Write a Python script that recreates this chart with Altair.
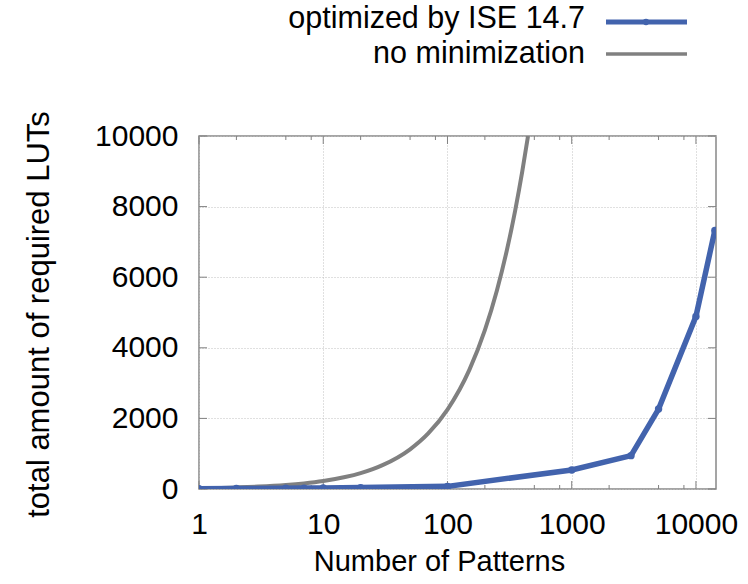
import altair as alt
import pandas as pd

# ---- data ----
series_names = ["optimized by ISE 14.7", "no minimization"]

opt_patterns = [1, 2, 5, 7, 10, 20, 100, 1000, 3000, 5000, 10000, 14200]
opt_luts = [10, 15, 20, 25, 30, 40, 75, 540, 945, 2265, 4890, 7325]

nomin_patterns = [1, 2, 3, 5, 7, 10, 15, 20, 30, 50, 70, 100, 150, 200, 250, 300, 350, 400, 445]
nomin_luts = [22, 45, 68, 113, 158, 225, 338, 450, 675, 1125, 1575, 2250, 3375, 4500, 5625, 6750, 7875, 9000, 10000]

x_major = [1, 10, 100, 1000, 10000]
x_minor = [2, 5, 8, 20, 50, 80, 200, 500, 800, 2000, 5000, 8000]
y_major = [0, 2000, 4000, 6000, 8000, 10000]

X_DOMAIN = [1, 14500]
Y_DOMAIN = [0, 10000]

W, H = 517, 353
FONT = "Liberation Sans"
FS = 29
LABFS = 30
BLUE = "#4263ad"
GRAY = "#808080"

opt_df = pd.DataFrame({"patterns": opt_patterns, "luts": opt_luts, "series": series_names[0]})
nomin_df = pd.DataFrame({"patterns": nomin_patterns, "luts": nomin_luts, "series": series_names[1]})

xscale = alt.Scale(type="log", domain=X_DOMAIN, nice=False)
yscale = alt.Scale(domain=Y_DOMAIN, nice=False)

x_enc = alt.X("patterns:Q", scale=xscale,
              axis=alt.Axis(values=x_major, format="d", ticks=False, domain=False,
                            grid=True, gridColor="#c0c0c0", gridDash=[1, 2], gridWidth=1,
                            labelFont=FONT, labelFontSize=LABFS, labelColor="black",
                            labelPadding=20, labelFlush=False, labelOverlap=False,
                            title="Number of Patterns", titleFont=FONT, titleFontSize=FS,
                            titleFontWeight="normal", titleColor="black",
                            titleBaseline="alphabetic", titleX=240, titleY=81, titleAnchor="middle"))
y_enc = alt.Y("luts:Q", scale=yscale,
              axis=alt.Axis(values=y_major, format="d", ticks=False, domain=False,
                            grid=True, gridColor="#c0c0c0", gridDash=[1, 2], gridWidth=1,
                            labelFont=FONT, labelFontSize=LABFS, labelColor="black",
                            labelPadding=21, labelFlush=False, labelOverlap=False,
                            title="total amount of required LUTs", titleFont=FONT, titleFontSize=31,
                            titleFontWeight="normal", titleColor="black",
                            titleBaseline="alphabetic", titleAngle=270, titleX=-151, titleY=178,
                            titleAnchor="middle"))

gray_line = alt.Chart(nomin_df).mark_line(color=GRAY, strokeWidth=4, interpolate="monotone", clip=True).encode(
    x=x_enc, y=y_enc)

blue_line = alt.Chart(opt_df).mark_line(color=BLUE, strokeWidth=5.5, clip=True).encode(
    x=alt.X("patterns:Q", scale=xscale), y=alt.Y("luts:Q", scale=yscale))
blue_pts = alt.Chart(opt_df).mark_point(color=BLUE, filled=True, size=55, opacity=1, clip=True).encode(
    x=alt.X("patterns:Q", scale=xscale), y=alt.Y("luts:Q", scale=yscale))

# inward tick marks on all four sides
tick_color = "#808080"
xmaj_df = pd.DataFrame({"t": x_major})
xmin_df = pd.DataFrame({"t": x_minor})
ymaj_df = pd.DataFrame({"t": y_major})

def xticks(df, length):
    bottom = alt.Chart(df).mark_rule(color=tick_color, strokeWidth=1).encode(
        x=alt.X("t:Q", scale=xscale), y=alt.value(H), y2=alt.value(H - length))
    top = alt.Chart(df).mark_rule(color=tick_color, strokeWidth=1).encode(
        x=alt.X("t:Q", scale=xscale), y=alt.value(0), y2=alt.value(length))
    return [bottom, top]

def yticks(df, length):
    left = alt.Chart(df).mark_rule(color=tick_color, strokeWidth=1).encode(
        y=alt.Y("t:Q", scale=yscale), x=alt.value(0), x2=alt.value(length))
    right = alt.Chart(df).mark_rule(color=tick_color, strokeWidth=1).encode(
        y=alt.Y("t:Q", scale=yscale), x=alt.value(W), x2=alt.value(W - length))
    return [left, right]

tick_layers = xticks(xmaj_df, 8) + xticks(xmin_df, 4) + yticks(ymaj_df, 8)

# manual legend (labels left of the line samples, as in the reference)
LFS = 30.5
leg_df = pd.DataFrame({"label": series_names})
leg1_text = alt.Chart(leg_df.iloc[[0]]).mark_text(
    align="right", baseline="alphabetic", font=FONT, fontSize=LFS, color="black").encode(
    text="label:N", x=alt.value(386), y=alt.value(-108))
leg2_text = alt.Chart(leg_df.iloc[[1]]).mark_text(
    align="right", baseline="alphabetic", font=FONT, fontSize=LFS, color="black").encode(
    text="label:N", x=alt.value(386), y=alt.value(-73))
leg1_line = alt.Chart(leg_df.iloc[[0]]).mark_rule(color=BLUE, strokeWidth=5).encode(
    x=alt.value(407), x2=alt.value(488), y=alt.value(-114))
leg1_pt = alt.Chart(leg_df.iloc[[0]]).mark_point(color=BLUE, filled=True, size=40, opacity=1).encode(
    x=alt.value(447), y=alt.value(-114))
leg2_line = alt.Chart(leg_df.iloc[[1]]).mark_rule(color=GRAY, strokeWidth=3.5).encode(
    x=alt.value(407), x2=alt.value(488), y=alt.value(-82))

chart = alt.layer(
    gray_line, *tick_layers, blue_line, blue_pts,
    leg1_text, leg2_text, leg1_line, leg1_pt, leg2_line
).properties(
    width=W, height=H,
    autosize=alt.AutoSizeParams(type="none"),
    padding={"left": 199, "top": 136, "right": 32, "bottom": 95},
    background="white",
).configure_view(
    stroke="#888888", strokeWidth=1.5
)

chart.save("out.html", embed_options={"renderer": "svg", "actions": False})
